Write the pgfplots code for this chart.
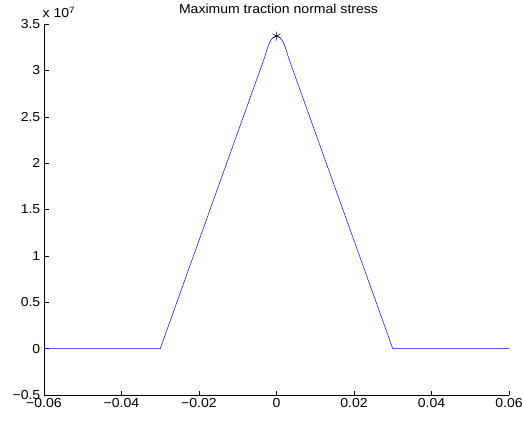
\documentclass[border=0pt]{standalone}
\usepackage{pgfplots}
\pgfplotsset{compat=1.18}
\usepackage{fontspec}
\setmainfont[FakeStretch=1.08]{Liberation Sans}

% Maximum traction normal stress along the interface
\pgfplotstableread{
x        s
-0.060   0
-0.045   0
-0.030   0
-0.0035  3.09e7
-0.0030  3.15e7
-0.0025  3.22e7
-0.0020  3.28e7
-0.0015  3.32e7
-0.0010  3.35e7
-0.0005  3.365e7
0.0000   3.37e7
0.0005   3.365e7
0.0010   3.35e7
0.0015   3.32e7
0.0020   3.28e7
0.0025   3.22e7
0.0030   3.15e7
0.0035   3.09e7
0.030    0
0.045    0
0.060    0
}\stress

\begin{document}
\begin{tikzpicture}
\path[use as bounding box] (0,0) rectangle (523bp,421bp);
\begin{axis}[
  at={(44bp,26bp)}, anchor=south west,
  scale only axis, width=465bp, height=371bp,
  xmin=-0.06, xmax=0.06, ymin=-0.5e7, ymax=3.5e7,
  axis lines=left, axis line style={-, line width=0.5pt},
  tick align=inside, major tick length=4.5bp,
  tick style={line width=0.5pt, black},
  xtick={-0.06,-0.04,-0.02,0,0.02,0.04,0.06},
  xticklabels={−0.06,−0.04,−0.02,0,0.02,0.04,0.06},
  ytick={-0.5e7,0,0.5e7,1e7,1.5e7,2e7,2.5e7,3e7,3.5e7},
  yticklabels={−0.5,0,0.5,1,1.5,2,2.5,3,3.5},
  scaled y ticks=false, scaled x ticks=false,
  tick label style={font=\fontsize{13bp}{15bp}\selectfont},
  xticklabel style={inner sep=1.5bp, yshift=-2bp},
  yticklabel style={inner sep=1.5bp, xshift=-2bp},
  /pgf/number format/assume math mode=true,
  clip=false,
]
\addplot[blue, line width=0.5pt] table[x=x, y=s] {\stress};
\addplot[black, only marks, mark=asterisk, mark size=4.5bp, mark options={line width=0.5pt}] coordinates {(0, 3.37e7)};
\node[anchor=base, font=\fontsize{13bp}{15bp}\selectfont, inner sep=0pt]
  at ([xshift=2bp, yshift=10.5bp]axis description cs:0.5,1) {Maximum traction normal stress};
\node[anchor=base west, font=\fontsize{13bp}{15bp}\selectfont, inner sep=0pt]
  at ([xshift=-1.5bp, yshift=6bp]axis cs:-0.06,3.5e7) {x 10\textsuperscript{7}};
\end{axis}
\end{tikzpicture}
\end{document}
